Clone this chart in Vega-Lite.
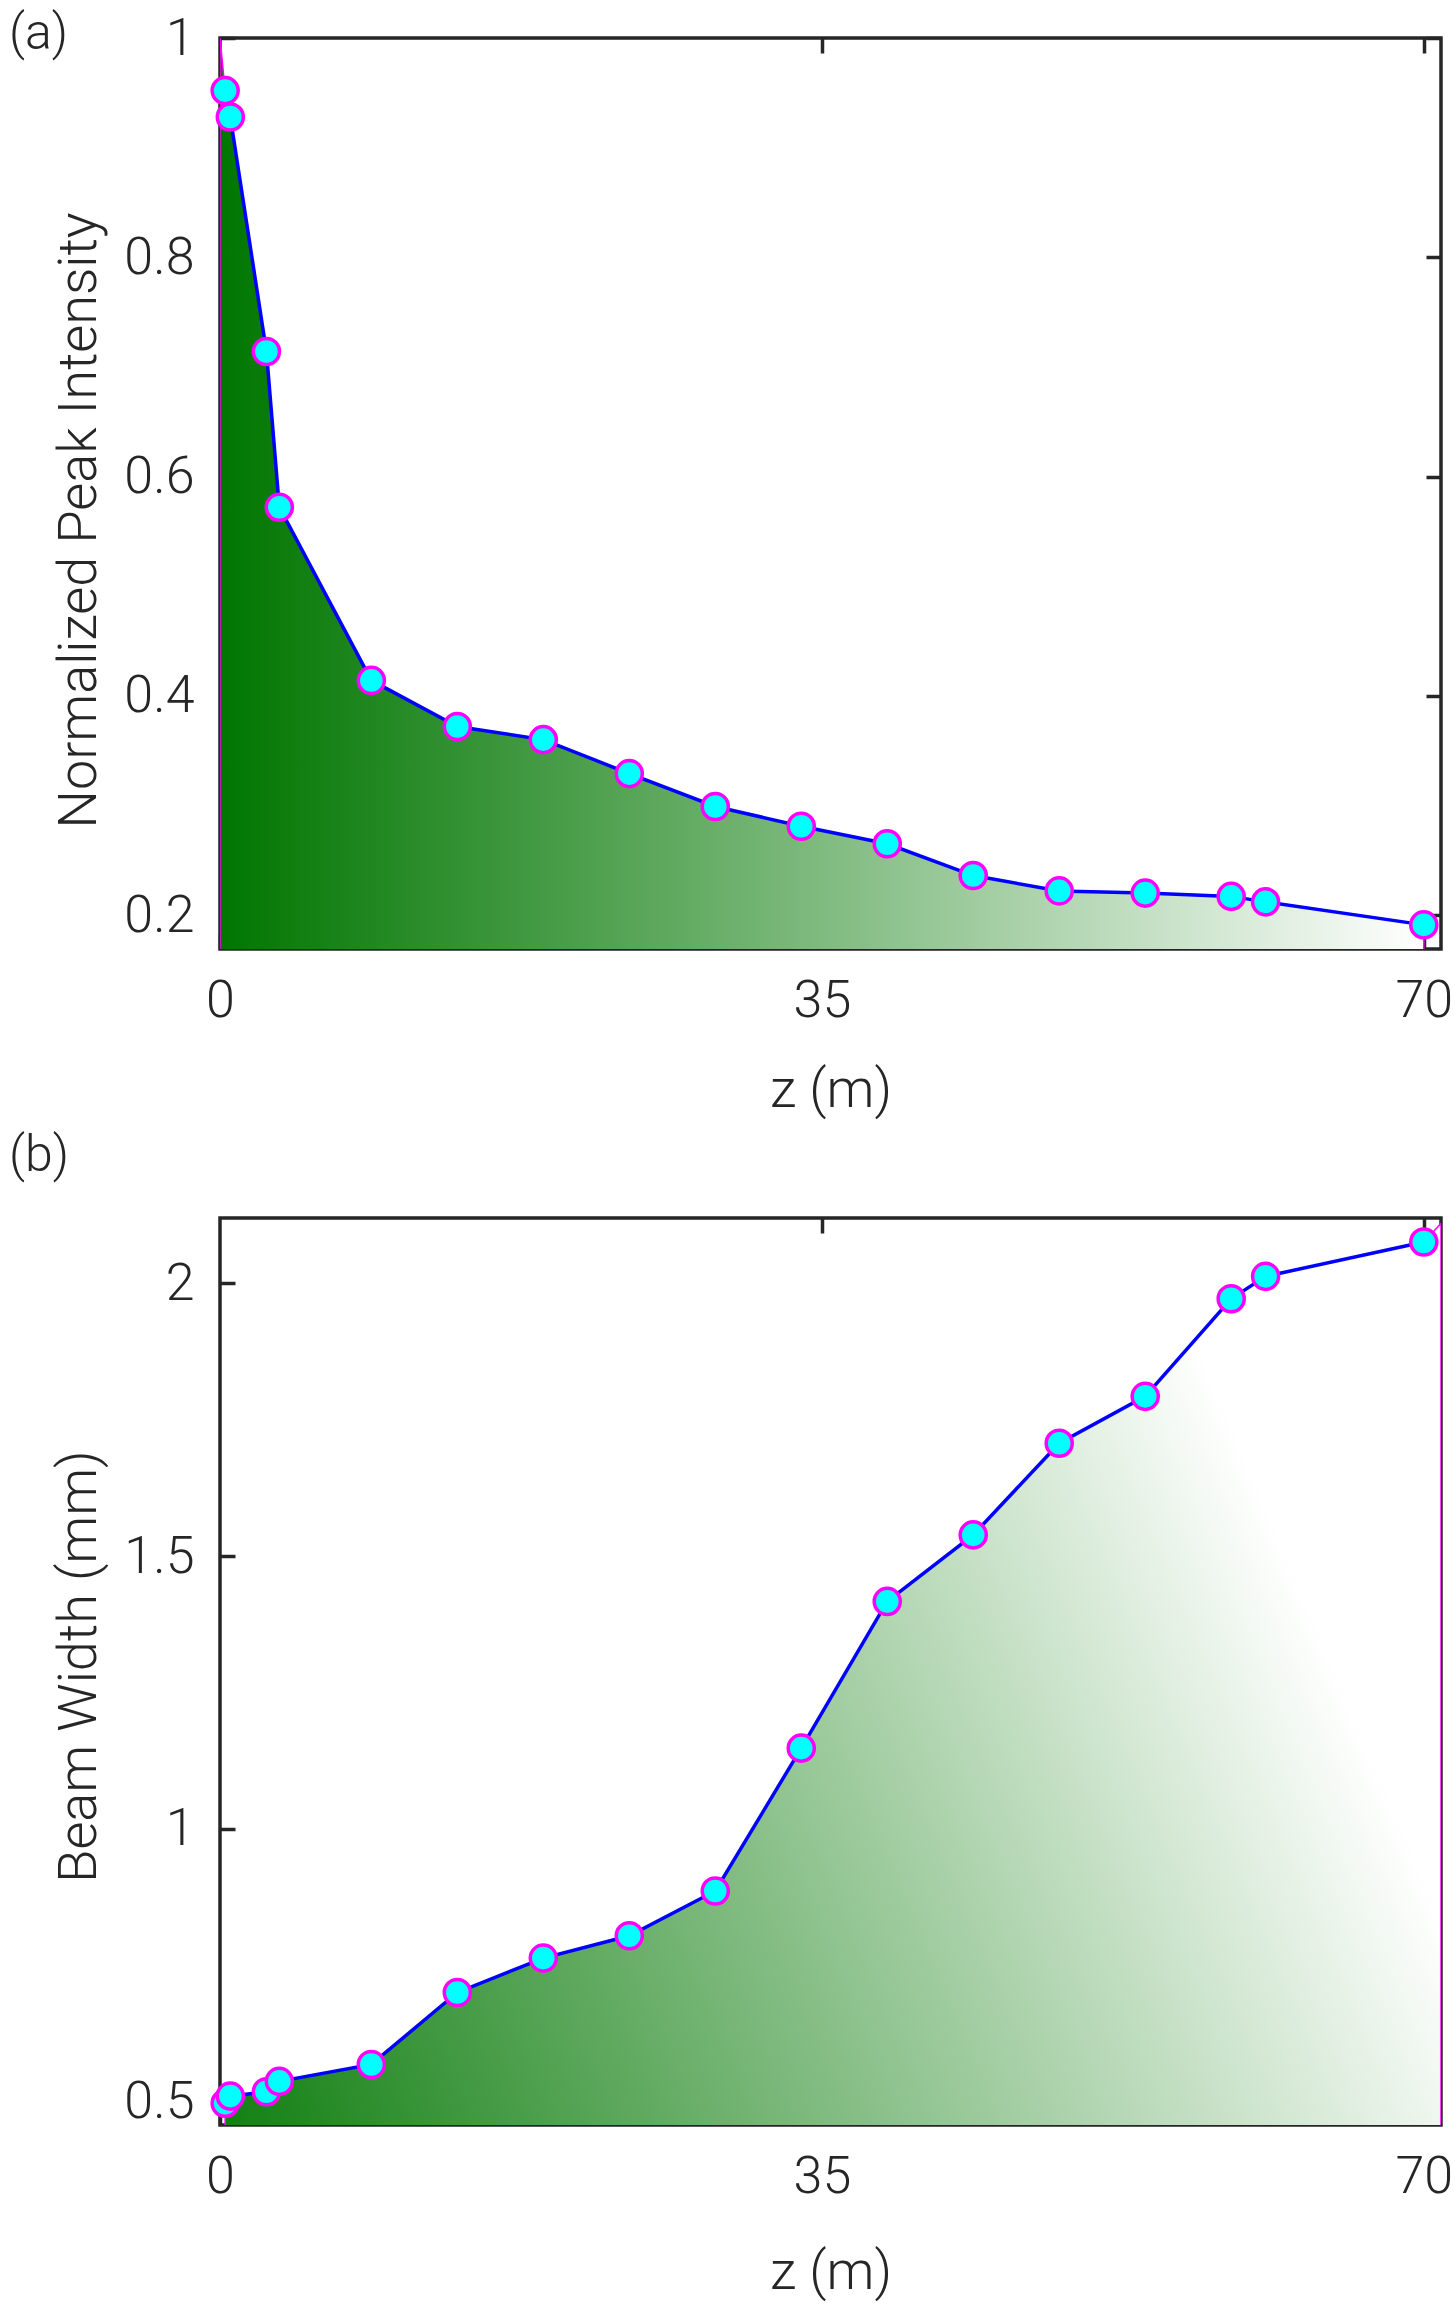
{
  "$schema": "https://vega.github.io/schema/vega-lite/v6.json",
  "background": "white",
  "padding": {"left": 7, "top": 7, "right": 10, "bottom": 5},
  "bounds": "flush",
  "spacing": 269,
  "datasets": {
    "intensity": [
      {"z": 0, "v": 1, "m": false},
      {"z": 0.3, "v": 0.952, "m": true},
      {"z": 0.6, "v": 0.928, "m": true},
      {"z": 2.7, "v": 0.714, "m": true},
      {"z": 3.45, "v": 0.572, "m": true},
      {"z": 8.8, "v": 0.414, "m": true},
      {"z": 13.8, "v": 0.372, "m": true},
      {"z": 18.8, "v": 0.36, "m": true},
      {"z": 23.8, "v": 0.329, "m": true},
      {"z": 28.8, "v": 0.299, "m": true},
      {"z": 33.8, "v": 0.281, "m": true},
      {"z": 38.8, "v": 0.265, "m": true},
      {"z": 43.8, "v": 0.236, "m": true},
      {"z": 48.8, "v": 0.222, "m": true},
      {"z": 53.8, "v": 0.22, "m": true},
      {"z": 58.8, "v": 0.217, "m": true},
      {"z": 60.8, "v": 0.212, "m": true},
      {"z": 70, "v": 0.191, "m": true}
    ],
    "beam": [
      {"z": 0.3, "w": 0.497, "m": true},
      {"z": 0.6, "w": 0.51, "m": true},
      {"z": 2.7, "w": 0.518, "m": true},
      {"z": 3.45, "w": 0.537, "m": true},
      {"z": 8.8, "w": 0.568, "m": true},
      {"z": 13.8, "w": 0.7, "m": true},
      {"z": 18.8, "w": 0.763, "m": true},
      {"z": 23.8, "w": 0.804, "m": true},
      {"z": 28.8, "w": 0.886, "m": true},
      {"z": 33.8, "w": 1.148, "m": true},
      {"z": 38.8, "w": 1.417, "m": true},
      {"z": 43.8, "w": 1.539, "m": true},
      {"z": 48.8, "w": 1.707, "m": true},
      {"z": 53.8, "w": 1.793, "m": true},
      {"z": 58.8, "w": 1.972, "m": true},
      {"z": 60.8, "w": 2.013, "m": true},
      {"z": 70, "w": 2.076, "m": true},
      {"z": 71, "w": 2.11, "m": false}
    ]
  },
  "config": {
    "view": {"stroke": "#262626", "strokeWidth": 3.5},
    "axis": {
      "domain": false,
      "grid": false,
      "minExtent": 0,
      "labelFont": "Roboto",
      "labelFontWeight": 300,
      "labelFontSize": 52,
      "labelColor": "#262626",
      "labelFlush": false,
      "labelOverlap": false,
      "titleFont": "Roboto",
      "titleFontWeight": 300,
      "titleFontSize": 54,
      "titleColor": "#262626",
      "tickColor": "#262626",
      "tickWidth": 3.5,
      "tickSize": -15
    },
    "title": {"font": "Roboto", "fontWeight": 300, "fontSize": 50, "color": "#262626"}
  },
  "vconcat": [
    {
      "width": 1221,
      "height": 911,
      "title": {"text": "(a)", "anchor": "start", "frame": "group", "dx": -211, "dy": 87, "offset": 0, "baseline": "alphabetic"},
      "data": {"name": "intensity"},
      "layer": [
        {
          "mark": {
            "type": "area",
            "clip": true,
            "color": {
              "gradient": "linear",
              "x1": 0, "y1": 0, "x2": 1, "y2": 0,
              "stops": [
                {"offset": 0, "color": "#007600"},
                {"offset": 1, "color": "#ffffff"}
              ]
            },
            "stroke": "#ff00ff",
            "strokeWidth": 1.5
          },
          "encoding": {
            "x": {
              "field": "z", "type": "quantitative",
              "scale": {"domain": [0, 71], "nice": false},
              "axis": {"orient": "bottom", "values": [0, 35, 70], "format": "d", "labelPadding": 41, "title": "z (m)", "titleY": 157, "titleBaseline": "alphabetic"}
            },
            "y": {
              "field": "v", "type": "quantitative",
              "scale": {"domain": [0.169, 1], "zero": false, "nice": false},
              "axis": {"orient": "left", "values": [0.2, 0.4, 0.6, 0.8, 1], "format": "~g", "labelPadding": 41, "title": "Normalized Peak Intensity", "titleX": -125, "titleY": 482, "titleBaseline": "alphabetic"}
            }
          }
        },
        {
          "transform": [{"filter": "datum.m"}],
          "mark": {"type": "line", "color": "#0000ff", "strokeWidth": 3.5},
          "encoding": {
            "x": {"field": "z", "type": "quantitative", "axis": {"orient": "top", "values": [35, 70], "labels": false, "title": null}},
            "y": {"field": "v", "type": "quantitative", "axis": {"orient": "right", "values": [0.2, 0.4, 0.6, 0.8, 1], "labels": false, "title": null}}
          }
        },
        {
          "transform": [{"filter": "datum.m"}],
          "mark": {"type": "point", "shape": "circle", "filled": true, "fill": "#00ffff", "stroke": "#ff00ff", "strokeWidth": 3.5, "size": 680, "opacity": 1},
          "encoding": {
            "x": {"field": "z", "type": "quantitative", "axis": null},
            "y": {"field": "v", "type": "quantitative", "axis": null}
          }
        }
      ],
      "resolve": {"axis": {"x": "independent", "y": "independent"}}
    },
    {
      "width": 1221,
      "height": 907,
      "title": {"text": "(b)", "anchor": "start", "frame": "group", "dx": -211, "dy": 5, "offset": 0, "baseline": "alphabetic"},
      "data": {"name": "beam"},
      "layer": [
        {
          "mark": {
            "type": "area",
            "clip": true,
            "color": {
              "gradient": "linear",
              "x1": 0, "y1": 1, "x2": 1, "y2": 0.6,
              "stops": [
                {"offset": 0, "color": "#007600"},
                {"offset": 1, "color": "#ffffff"}
              ]
            },
            "stroke": "#ff00ff",
            "strokeWidth": 1.5
          },
          "encoding": {
            "x": {
              "field": "z", "type": "quantitative",
              "scale": {"domain": [0, 71], "nice": false},
              "axis": {"orient": "bottom", "values": [0, 35, 70], "format": "d", "labelPadding": 41, "title": "z (m)", "titleY": 163, "titleBaseline": "alphabetic"}
            },
            "y": {
              "field": "w", "type": "quantitative",
              "scale": {"domain": [0.457, 2.12], "zero": false, "nice": false},
              "axis": {"orient": "left", "values": [0.5, 1, 1.5, 2], "format": "~g", "labelPadding": 41, "title": "Beam Width (mm)", "titleX": -125, "titleY": 448, "titleBaseline": "alphabetic"}
            }
          }
        },
        {
          "transform": [{"filter": "datum.m"}],
          "mark": {"type": "line", "color": "#0000ff", "strokeWidth": 3.5},
          "encoding": {
            "x": {"field": "z", "type": "quantitative", "axis": {"orient": "top", "values": [35, 70], "labels": false, "title": null}},
            "y": {"field": "w", "type": "quantitative", "axis": {"orient": "right", "values": [0.5, 1, 1.5, 2], "labels": false, "title": null}}
          }
        },
        {
          "transform": [{"filter": "datum.m"}],
          "mark": {"type": "point", "shape": "circle", "filled": true, "fill": "#00ffff", "stroke": "#ff00ff", "strokeWidth": 3.5, "size": 680, "opacity": 1},
          "encoding": {
            "x": {"field": "z", "type": "quantitative", "axis": null},
            "y": {"field": "w", "type": "quantitative", "axis": null}
          }
        }
      ],
      "resolve": {"axis": {"x": "independent", "y": "independent"}}
    }
  ]
}
